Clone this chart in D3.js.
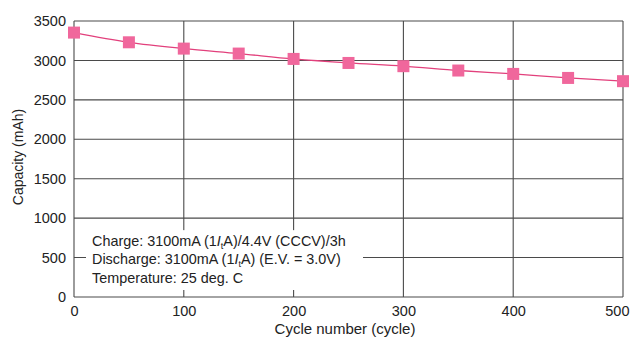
<!DOCTYPE html>
<html>
<head>
<meta charset="utf-8">
<script src="https://cdn.jsdelivr.net/npm/d3@7"></script>
<style>
  html, body { margin: 0; padding: 0; background: #fff; }
  svg { display: block; font-family: "Liberation Sans", Arial, Helvetica, sans-serif; }
</style>
</head>
<body>
<svg id="chart" width="634" height="337"></svg>
<script>
// Cycle-life data: capacity retention over charge/discharge cycles
const cycles = [0, 50, 100, 150, 200, 250, 300, 350, 400, 450, 500];
const capacity = [3353, 3230, 3150, 3087, 3019, 2968, 2927, 2872, 2829, 2778, 2737];
const xTicks = [0, 100, 200, 300, 400, 500];
const yTicks = [0, 500, 1000, 1500, 2000, 2500, 3000, 3500];

const svg = d3.select("#chart");
const margin = { left: 74, right: 11, top: 21, bottom: 40 };
const W = 634, H = 337;

const x = d3.scaleLinear().domain([0, 500]).range([margin.left, W - margin.right]);
const y = d3.scaleLinear().domain([0, 3500]).range([H - margin.bottom, margin.top]);

const gridColor = "#4a4a4a";

// grid lines
svg.append("g").selectAll("line.h").data(yTicks).join("line")
  .attr("x1", x(0)).attr("x2", x(500))
  .attr("y1", d => y(d)).attr("y2", d => y(d))
  .attr("stroke", gridColor).attr("stroke-width", 1.1);
svg.append("g").selectAll("line.v").data(xTicks).join("line")
  .attr("x1", d => x(d)).attr("x2", d => x(d))
  .attr("y1", y(0)).attr("y2", y(3500))
  .attr("stroke", gridColor).attr("stroke-width", 1.1);

// axes (labels only)
const yAxis = svg.append("g")
  .attr("transform", `translate(${x(0)},0)`)
  .call(d3.axisLeft(y).tickValues(yTicks).tickFormat(d3.format("d")).tickSize(0).tickPadding(8));
const xAxis = svg.append("g")
  .attr("transform", `translate(0,${y(0)})`)
  .call(d3.axisBottom(x).tickValues(xTicks).tickFormat(d3.format("d")).tickSize(0).tickPadding(9));
[yAxis, xAxis].forEach(g => {
  g.select(".domain").remove();
  g.selectAll("text").attr("font-size", 14.5).attr("fill", "#222")
    .attr("font-family", "'Liberation Sans', Arial, sans-serif");
});
// keep the last x label inside the frame
xAxis.selectAll(".tick text").filter(d => d === 500)
  .attr("text-anchor", "end").attr("dx", 6);

// condition note box
const note = svg.append("g");
note.append("rect")
  .attr("x", 86).attr("y", y(1000) + 12)
  .attr("width", 277).attr("height", y(0) - y(1000) - 19)
  .attr("fill", "#fff");
const noteLines = [
  ["Charge: 3100mA (1", "/4.4V (CCCV)/3h"],
  ["Discharge: 3100mA (1", " (E.V. = 3.0V)"],
  ["Temperature: 25 deg. C", null]
];
const noteY = [246, 264, 283];
noteLines.forEach((parts, i) => {
  const t = note.append("text")
    .attr("x", 92).attr("y", noteY[i])
    .attr("font-size", 14.4).attr("fill", "#222");
  t.append("tspan").text(parts[0]);
  if (parts[1] !== null) {
    t.append("tspan").attr("font-style", "italic").text("I");
    t.append("tspan").attr("font-size", 9).attr("dy", 3).text("t");
    t.append("tspan").attr("dy", -3).text("A)" + parts[1]);
  }
});

// capacity curve
svg.append("path")
  .datum(cycles.map((c, i) => [c, capacity[i]]))
  .attr("fill", "none")
  .attr("stroke", "#e2407c")
  .attr("stroke-width", 1.3)
  .attr("d", d3.line().x(d => x(d[0])).y(d => y(d[1])).curve(d3.curveMonotoneX));

const ms = 12;
svg.append("g").selectAll("rect").data(cycles).join("rect")
  .attr("x", (d) => x(d) - ms / 2)
  .attr("y", (d, i) => y(capacity[i]) - ms / 2)
  .attr("width", ms).attr("height", ms)
  .attr("fill", "#f0679c");

// axis titles
svg.append("text")
  .attr("x", 345).attr("y", 334)
  .attr("text-anchor", "middle").attr("font-size", 15).attr("fill", "#222")
  .text("Cycle number (cycle)");
svg.append("text")
  .attr("transform", `translate(23,157) rotate(-90)`)
  .attr("text-anchor", "middle").attr("font-size", 14).attr("fill", "#222")
  .text("Capacity (mAh)");
</script>
</body>
</html>
